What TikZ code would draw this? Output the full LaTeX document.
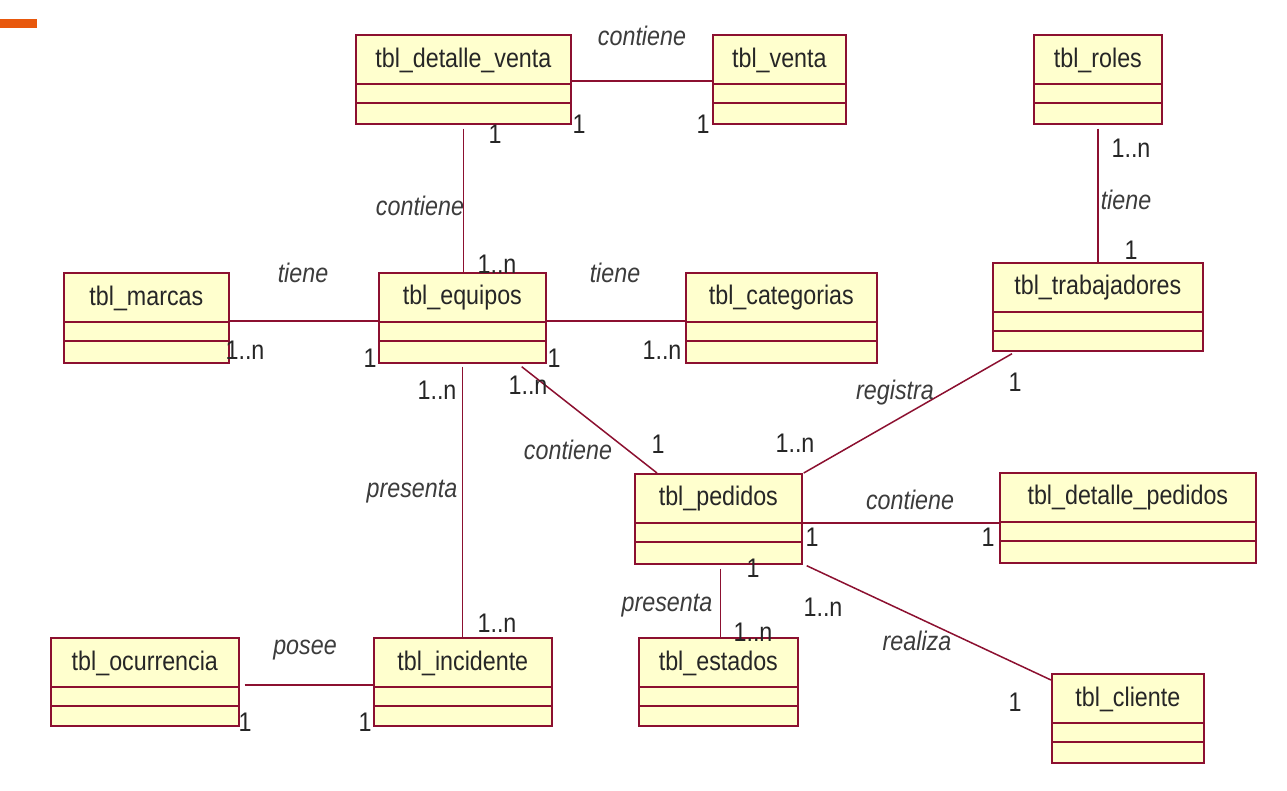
\documentclass[tikz,border=0pt]{standalone}
\usepackage{fontspec}
\usepackage{graphicx}
\setmainfont{Liberation Sans}
\usetikzlibrary{calc}
\definecolor{boxfill}{RGB}{255,255,206}
\definecolor{boxline}{RGB}{140,16,48}
\definecolor{lbl}{RGB}{60,60,60}
\definecolor{orangebar}{RGB}{232,88,12}
\newcommand{\sx}[1]{\scalebox{0.97}[1.12]{#1}}
\tikzset{
  cls/.style={draw=boxline, fill=boxfill, line width=1.7pt, inner sep=0pt, rectangle},
  sepline/.style={draw=boxline, line width=1.6pt},
  ctext/.style={font=\fontsize{24}{26}\selectfont, text=black!85, inner sep=0pt},
  assoc/.style={draw=boxline, line width=1.5pt},
  rel/.style={font=\fontsize{24}{26}\selectfont\itshape, text=lbl, inner sep=0pt},
  mult/.style={font=\fontsize{24}{26}\selectfont, text=black!85, inner sep=0pt},
}
\newcommand{\umlbox}[6]{%
  \pgfmathsetmacro\bw{#4-#2}\pgfmathsetmacro\bh{#5-#3}%
  \node[cls, minimum width=\bw pt, minimum height=\bh pt, anchor=north west] (#1) at (#2,#3) {};
  \draw[sepline] ([yshift=-50pt]#1.north west) -- ([yshift=-50pt]#1.north east);
  \draw[sepline] ([yshift=-69pt]#1.north west) -- ([yshift=-69pt]#1.north east);
  \node[ctext] (#1-t) at ([yshift=-26pt]#1.north) {\sx{#6}};
}
\begin{document}
\begin{tikzpicture}[x=1pt,y=-1pt]
\useasboundingbox (0,0) rectangle (1287,790);
\fill[white] (0,0) rectangle (1287,790);
\fill[orangebar] (0,19) rectangle (37,28);

% classes
\umlbox{dv}{355}{34}{570}{123}{tbl\_detalle\_venta}
\umlbox{ve}{712}{34}{845}{123}{tbl\_venta}
\umlbox{ro}{1033}{34}{1161}{123}{tbl\_roles}
\umlbox{ma}{63}{272}{228}{362}{tbl\_marcas}
\umlbox{eq}{378}{272}{545}{362}{tbl\_equipos}
\umlbox{ca}{685}{272}{876}{362}{tbl\_categorias}
\umlbox{tr}{992}{262}{1202}{350}{tbl\_trabajadores}
\umlbox{pe}{634}{473}{801}{563}{tbl\_pedidos}
\umlbox{dp}{999}{472}{1255}{562}{tbl\_detalle\_pedidos}
\umlbox{es}{638}{637}{797}{725}{tbl\_estados}
\umlbox{cl}{1051}{673}{1203}{762}{tbl\_cliente}
\umlbox{oc}{50}{637}{238}{725}{tbl\_ocurrencia}
\umlbox{inc}{373}{637}{551}{725}{tbl\_incidente}

% associations
\draw[assoc] ([yshift=-1.5pt]dv.east) -- ([yshift=-1.5pt]dv.east -| ve.west);
\draw[assoc, shorten <=4pt] (dv.south) -- (dv.south |- eq.north);
\draw[assoc] ([yshift=-3pt]ma.east) -- ([yshift=-3pt]ma.east -| eq.west);
\draw[assoc] ([yshift=-3pt]eq.east) -- ([yshift=-3pt]eq.east -| ca.west);
\draw[assoc, shorten <=3pt] (eq.south) -- (eq.south |- inc.north);
\draw[assoc] ([shift={(-25pt,-3pt)}]eq.south east) -- ([xshift=23pt]pe.north west);
\draw[assoc, shorten <=4pt] (ro.south) -- (ro.south |- tr.north);
\draw[assoc] ([shift={(20pt,-2pt)}]tr.south west) -- ([xshift=1pt]pe.north east);
\draw[assoc] ([yshift=-4pt]pe.east) -- ([yshift=-4pt]pe.east -| dp.west);
\draw[assoc, shorten <=4pt] ([xshift=2pt]pe.south) -- ([xshift=2pt]pe.south |- es.north);
\draw[assoc] ([shift={(4pt,-1pt)}]pe.south east) -- ([yshift=-7pt]cl.north west);
\draw[assoc, shorten <=5pt] ([yshift=-3pt]oc.east) -- ([yshift=-3pt]oc.east -| inc.west);

% association names
\node[rel] (r1) at (642,36) {\sx{contiene}};
\node[rel] (r2) at (420,206) {\sx{contiene}};
\node[rel] (r3) at (303,273) {\sx{tiene}};
\node[rel] (r4) at (615,273) {\sx{tiene}};
\node[rel] (r5) at (1126,200) {\sx{tiene}};
\node[rel] (r6) at (895,393) {\sx{registra}};
\node[rel] (r7) at (568,450) {\sx{contiene}};
\node[rel] (r8) at (412,492) {\sx{presenta}};
\node[rel] (r9) at (910,500) {\sx{contiene}};
\node[rel] (r10) at (667,606) {\sx{presenta}};
\node[rel] (r11) at (917,641) {\sx{realiza}};
\node[rel] (r12) at (305,650) {\sx{posee}};

% multiplicities
\node[mult] (m1) at (579,124) {\sx{1}};
\node[mult] (m2) at (703,124) {\sx{1}};
\node[mult] (m3) at (495,134) {\sx{1}};
\node[mult] (m4) at (497,264) {\sx{1..n}};
\node[mult] (m5) at (245,350) {\sx{1..n}};
\node[mult] (m6) at (370,358) {\sx{1}};
\node[mult] (m7) at (554,358) {\sx{1}};
\node[mult] (m8) at (662,350) {\sx{1..n}};
\node[mult] (m9) at (437,390) {\sx{1..n}};
\node[mult] (m10) at (528,385) {\sx{1..n}};
\node[mult] (m11) at (1131,148) {\sx{1..n}};
\node[mult] (m12) at (1131,250) {\sx{1}};
\node[mult] (m13) at (1015,382) {\sx{1}};
\node[mult] (m14) at (658,444) {\sx{1}};
\node[mult] (m15) at (795,443) {\sx{1..n}};
\node[mult] (m16) at (812,537) {\sx{1}};
\node[mult] (m17) at (988,537) {\sx{1}};
\node[mult] (m18) at (753,568) {\sx{1}};
\node[mult] (m19) at (823,607) {\sx{1..n}};
\node[mult] (m20) at (753,632) {\sx{1..n}};
\node[mult] (m21) at (1015,702) {\sx{1}};
\node[mult] (m22) at (497,623) {\sx{1..n}};
\node[mult] (m23) at (245,722) {\sx{1}};
\node[mult] (m24) at (365,722) {\sx{1}};
\end{tikzpicture}
\end{document}
